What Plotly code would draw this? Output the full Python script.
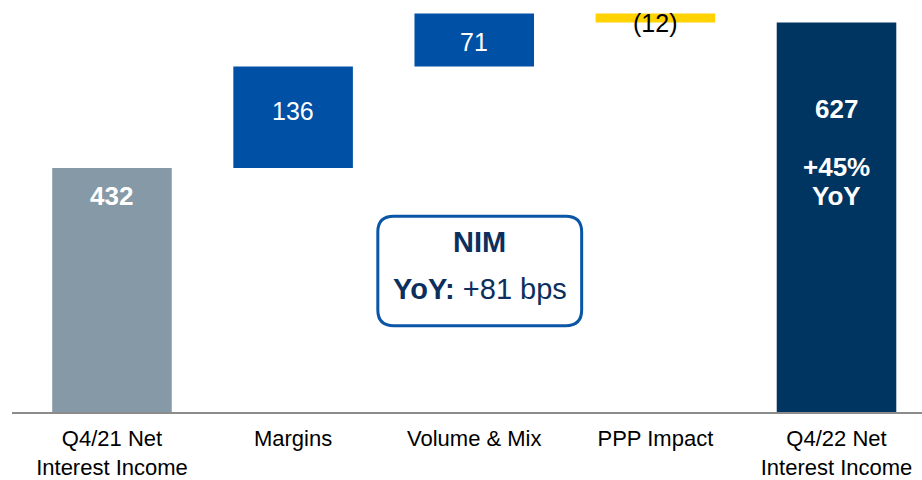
import plotly.graph_objects as go

# Net interest income bridge, Q4/21 -> Q4/22
categories = ["Q4/21 Net<br>Interest Income", "Margins", "Volume & Mix",
              "PPP Impact", "Q4/22 Net<br>Interest Income"]
start_value = 432
deltas = [136, 71, -12]
end_value = 627
yoy_growth = "+45%"
nim_change_bps = 81

GRAY = "#8599A6"
BLUE = "#0050A5"
YELLOW = "#FFD200"
NAVY = "#003461"
TEXT_NAVY = "#0C2F5E"
FONT = "Liberation Sans, Arial, sans-serif"

# bases / heights for each bar of the bridge
bases, heights, colors = [0], [start_value], [GRAY]
running = start_value
for d in deltas:
    if d >= 0:
        bases.append(running)
        heights.append(d)
        colors.append(BLUE)
    else:
        bases.append(running + d)
        heights.append(-d)
        colors.append(YELLOW)
    running += d
bases.append(0)
heights.append(end_value)
colors.append(NAVY)

fig = go.Figure(go.Bar(
    x=categories, y=heights, base=bases,
    marker=dict(color=colors, line=dict(width=0)),
    width=0.66, hoverinfo="skip",
))

def fmt(v):
    return f"({abs(v)})" if v < 0 else f"{v}"

ann = []
# starting total
ann.append(dict(x=categories[0], y=start_value, text=f"<b>{start_value}</b>",
                yshift=-28, font=dict(size=26, color="white")))
# deltas
shifts = [6, -2, -5]
for i, d in enumerate(deltas):
    cat = categories[i + 1]
    mid = bases[i + 1] + heights[i + 1] / 2
    color = "black" if d < 0 else "white"
    ann.append(dict(x=cat, y=mid, text=fmt(d), yshift=shifts[i],
                    font=dict(size=25, color=color)))
# ending total
ann.append(dict(x=categories[-1], y=end_value, text=f"<b>{end_value}</b>",
                yshift=-87, font=dict(size=26, color="white")))
ann.append(dict(x=categories[-1], y=end_value, text=f"<b>{yoy_growth}</b>",
                yshift=-145, font=dict(size=26, color="white")))
ann.append(dict(x=categories[-1], y=end_value, text="<b>YoY</b>",
                yshift=-174, font=dict(size=26, color="white")))
for a in ann:
    a.update(showarrow=False, xref="x", yref="y", yanchor="middle")

# NIM call-out box
bx0, bx1, by0, by1 = 0.402, 0.626, 0.2096, 0.475
rx, ry = 0.0175, 0.038
path = (f"M {bx0+rx} {by1} L {bx1-rx} {by1} Q {bx1} {by1} {bx1} {by1-ry} "
        f"L {bx1} {by0+ry} Q {bx1} {by0} {bx1-rx} {by0} "
        f"L {bx0+rx} {by0} Q {bx0} {by0} {bx0} {by0+ry} "
        f"L {bx0} {by1-ry} Q {bx0} {by1} {bx0+rx} {by1} Z")
shapes = [dict(type="path", path=path, xref="paper", yref="paper",
               line=dict(color="#0A56A6", width=3), fillcolor="white", layer="above")]
cx = (bx0 + bx1) / 2
ann.append(dict(x=cx, y=1 - 244 / 415, xref="paper", yref="paper", showarrow=False,
                text="<b>NIM</b>", font=dict(size=29, color=TEXT_NAVY), yanchor="middle"))
ann.append(dict(x=cx, y=1 - 291 / 415, xref="paper", yref="paper", showarrow=False,
                text=f"<b>YoY:</b> +{nim_change_bps} bps",
                font=dict(size=29, color=TEXT_NAVY), yanchor="middle"))

fig.update_layout(
    width=922, height=480,
    margin=dict(l=12, r=0, t=0, b=65),
    paper_bgcolor="white", plot_bgcolor="white",
    font=dict(family=FONT, color="black"),
    showlegend=False,
    annotations=ann, shapes=shapes,
    xaxis=dict(range=[-0.552, 4.472], showline=True, linecolor="#8C8C8C", linewidth=2,
               ticks="", showgrid=False, zeroline=False, ticklabelstandoff=6,
               tickfont=dict(size=22, color="black", family=FONT)),
    yaxis=dict(range=[105, 657], visible=False, showgrid=False, zeroline=False),
)

fig.write_html("out.html")
